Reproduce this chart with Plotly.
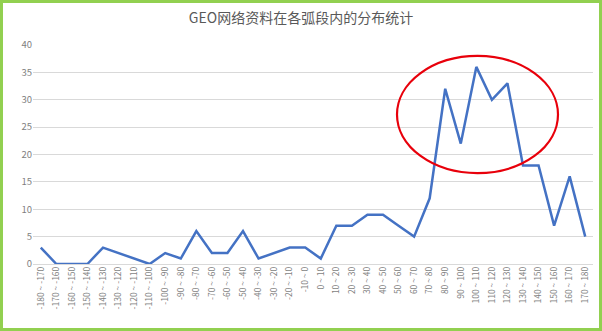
import plotly.graph_objects as go

# ---- data ----
lows = list(range(-180, 180, 10))
categories = [f"{a} ~ {a + 10}" for a in lows]
counts = [3, 0, 0, 0, 3, 2, 1, 0, 2, 1, 6, 2, 2, 6, 1, 2, 3, 3, 1, 7,
          7, 9, 9, 7, 5, 12, 32, 22, 36, 30, 33, 18, 18, 7, 16, 5]
y_ticks = [0, 5, 10, 15, 20, 25, 30, 35, 40]
title_text = "GEO网络资料在各弧段内的分布统计"

# highlight ellipse (category-index / value space)
ellipse_x = [22.9, 33.25]
ellipse_y = [16.6, 38.0]

W, H = 602, 331
ML, MR, MT, MB = 33, 9, 45, 67
PW, PH = W - ML - MR, H - MT - MB

def px_to_paper_x(px):
    return (px - ML) / PW

def py_to_paper_y(py):
    return (H - MB - py) / PH

fig = go.Figure()
fig.add_trace(go.Scatter(
    x=categories, y=counts, mode="lines",
    line=dict(color="#4472C4", width=2.5),
    hoverinfo="x+y",
))

fig.update_layout(
    width=W, height=H,
    margin=dict(l=ML, r=MR, t=MT, b=MB),
    paper_bgcolor="white", plot_bgcolor="white",
    showlegend=False,
    font=dict(family="Noto Sans CJK SC, Noto Sans, sans-serif", color="#595959"),
    title=dict(text=title_text, x=px_to_paper_x(301), xref="paper",
               xanchor="center", y=1 - 18 / H, yanchor="middle",
               font=dict(size=14, color="#595959")),
    xaxis=dict(type="category", range=[-0.5, 35.5], showgrid=False,
               tickangle=-90, tickfont=dict(size=8.5, color="#7f7f7f"),
               showline=False, zeroline=False, ticks=""),
    yaxis=dict(range=[0, 40], tickvals=y_ticks, showgrid=True,
               gridcolor="#D9D9D9", gridwidth=1, zeroline=True,
               zerolinecolor="#D9D9D9", zerolinewidth=1,
               tickfont=dict(size=9.5, color="#7f7f7f"), ticks="",
               ticklen=0),
    shapes=[
        dict(type="circle", xref="x", yref="y",
             x0=ellipse_x[0], x1=ellipse_x[1], y0=ellipse_y[0], y1=ellipse_y[1],
             line=dict(color="#E8000B", width=2.2), fillcolor="rgba(0,0,0,0)"),
        dict(type="rect", xref="paper", yref="paper",
             x0=px_to_paper_x(1.5), x1=px_to_paper_x(600.5),
             y0=py_to_paper_y(329.5), y1=py_to_paper_y(1.5),
             line=dict(color="#92D050", width=3), fillcolor="rgba(0,0,0,0)"),
    ],
)

fig.write_html("out.html")
